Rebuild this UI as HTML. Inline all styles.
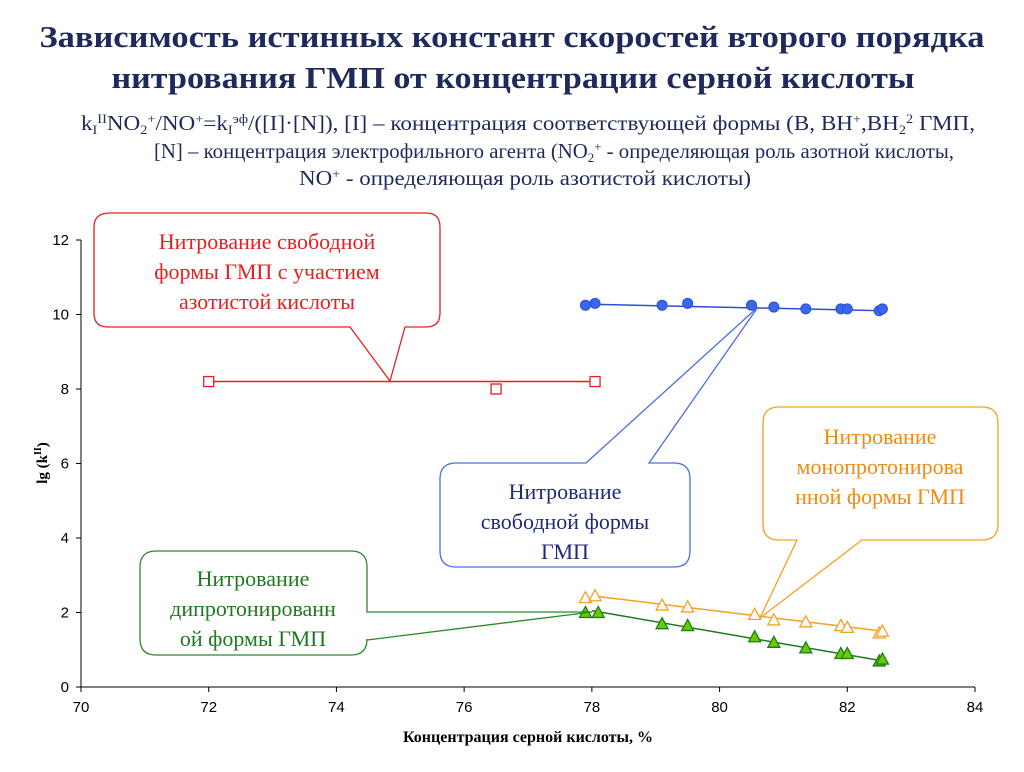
<!DOCTYPE html>
<html><head><meta charset="utf-8"><style>
body{margin:0;background:#fff;width:1024px;height:767px;overflow:hidden}
svg text{font-family:"Liberation Serif",serif}
</style></head><body>
<svg width="1024" height="767" xmlns="http://www.w3.org/2000/svg">
<text x="512" y="47" text-anchor="middle" font-size="31" font-weight="bold" fill="#1f2a5c" textLength="945" lengthAdjust="spacingAndGlyphs">Зависимость истинных констант скоростей второго порядка</text>
<text x="513" y="88" text-anchor="middle" font-size="31" font-weight="bold" fill="#1f2a5c" textLength="803" lengthAdjust="spacingAndGlyphs">нитрования ГМП от концентрации серной кислоты</text>
<g fill="#1f2a5c" font-size="21">
<text x="81" y="130" textLength="894" lengthAdjust="spacingAndGlyphs">k<tspan font-size="13" dy="4">I</tspan><tspan font-size="13" dy="-11">II</tspan><tspan dy="7">NO</tspan><tspan font-size="13" dy="4">2</tspan><tspan font-size="13" dy="-11">+</tspan><tspan dy="7">/NO</tspan><tspan font-size="13" dy="-7">+</tspan><tspan dy="7">=k</tspan><tspan font-size="13" dy="4">I</tspan><tspan font-size="13" dy="-11">эф</tspan><tspan dy="7">/([I]·[N]), [I] – концентрация соответствующей формы (B, BH</tspan><tspan font-size="13" dy="-7">+</tspan><tspan dy="7">,BH</tspan><tspan font-size="13" dy="4">2</tspan><tspan font-size="13" dy="-11">2</tspan><tspan dy="7"> ГМП,</tspan></text>
<text x="154" y="158" textLength="800" lengthAdjust="spacingAndGlyphs">[N] – концентрация электрофильного агента (NO<tspan font-size="13" dy="4">2</tspan><tspan font-size="13" dy="-11">+</tspan><tspan dy="7"> - определяющая роль азотной кислоты,</tspan></text>
<text x="299" y="185" textLength="452" lengthAdjust="spacingAndGlyphs">NO<tspan font-size="13" dy="-7">+</tspan><tspan dy="7"> - определяющая роль азотистой кислоты)</tspan></text>
</g>
<g id="axes"></g>
<g id="series"></g>
<text x="0" y="0" transform="translate(47,463) rotate(-90)" text-anchor="middle" font-size="15" font-weight="bold">lg (k<tspan font-size="10" dy="-6">II</tspan><tspan dy="6">)</tspan></text>
<text x="528" y="742" text-anchor="middle" font-size="16" font-weight="bold">Концентрация серной кислоты, %</text>
<g>
<path d="M110,213 H426 Q440,213 440,227 V313 Q440,327 426,327 H405 L390,381 L350,327 H108 Q94,327 94,313 V227 Q94,213 110,213 Z" fill="#fff" stroke="#e52020" stroke-width="1.3"/>
<g fill="#e52020" font-size="22" text-anchor="middle"><text x="267" y="249">Нитрование свободной</text><text x="267" y="279">формы ГМП с участием</text><text x="267" y="309">азотистой кислоты</text></g>
</g>
<g>
<path d="M456,463 H586 L758,307 L649,463 H674 Q690,463 690,479 V551 Q690,567 674,567 H456 Q440,567 440,551 V479 Q440,463 456,463 Z" fill="#fff" stroke="#4a6fe0" stroke-width="1.3"/>
<g fill="#1f2a7a" font-size="22" text-anchor="middle"><text x="565" y="499">Нитрование</text><text x="565" y="529">свободной формы</text><text x="565" y="559">ГМП</text></g>
</g>
<g>
<path d="M779,407 H982 Q998,407 998,423 V524 Q998,540 982,540 H862 L760,618 L797,540 H779 Q763,540 763,524 V423 Q763,407 779,407 Z" fill="#fff" stroke="#f5a020" stroke-width="1.3"/>
<g fill="#f08a10" font-size="22" text-anchor="middle"><text x="880" y="444">Нитрование</text><text x="880" y="474">монопротонирова</text><text x="880" y="504">нной формы ГМП</text></g>
</g>
<g>
<path d="M156,551 H351 Q367,551 367,567 V612 L592,612 L367,640 V639 Q367,655 351,655 H156 Q140,655 140,639 V567 Q140,551 156,551 Z" fill="#fff" stroke="#2a8a2a" stroke-width="1.3"/>
<g fill="#1f7a1f" font-size="22" text-anchor="middle"><text x="253" y="586">Нитрование</text><text x="253" y="616">дипротонированн</text><text x="253" y="646">ой формы ГМП</text></g>
</g>
</svg>
<script>
const xTicks=[70,72,74,76,78,80,82,84];
const yTicks=[0,2,4,6,8,10,12];
const blueX=[77.9,78.05,79.1,79.5,80.5,80.85,81.35,81.9,82.0,82.5,82.55];
const blueY=[10.25,10.3,10.25,10.3,10.25,10.2,10.15,10.15,10.15,10.1,10.15];
const blueFit=[[77.9,10.28],[82.55,10.1]];
const redX=[72,76.5,78.05];
const redY=[8.2,8.0,8.2];
const redFit=[[72,8.2],[78.05,8.2]];
const orangeX=[77.9,78.05,79.1,79.5,80.55,80.85,81.35,81.9,82.0,82.5,82.55];
const orangeY=[2.4,2.45,2.2,2.15,1.95,1.8,1.75,1.65,1.6,1.45,1.5];
const orangeFit=[[78.0,2.45],[82.55,1.5]];
const greenX=[77.9,78.1,79.1,79.5,80.55,80.85,81.35,81.9,82.0,82.5,82.55];
const greenY=[2.0,2.0,1.7,1.65,1.35,1.2,1.05,0.9,0.9,0.7,0.75];
const greenFit=[[78.0,2.05],[82.55,0.7]];
const X=v=>81+(v-70)*(975-81)/14;
const Y=v=>687-v*(687-240)/12;
const NS="http://www.w3.org/2000/svg";
function mk(tag,at,parent){const e=document.createElementNS(NS,tag);for(const k in at)e.setAttribute(k,at[k]);parent.appendChild(e);return e;}
const ax=document.getElementById('axes'),sr=document.getElementById('series');
let a=mk('line',{x1:X(70),y1:Y(0),x2:X(84),y2:Y(0),stroke:'#000'},ax);


a=mk('line',{x1:X(70),y1:Y(0),x2:X(70),y2:Y(12),stroke:'#000'},ax);


xTicks.forEach(t=>{mk('line',{x1:X(t),y1:Y(0),x2:X(t),y2:Y(0)+5,stroke:'#000'},ax);
const tx=mk('text',{x:X(t),y:Y(0)+25,'text-anchor':'middle','font-size':'15',style:'font-family:"Liberation Sans",sans-serif'},ax);tx.textContent=t;

});
yTicks.forEach(t=>{mk('line',{x1:X(70)-5,y1:Y(t),x2:X(70),y2:Y(t),stroke:'#000'},ax);
const tx=mk('text',{x:X(70)-12,y:Y(t)+5,'text-anchor':'end','font-size':'15',style:'font-family:"Liberation Sans",sans-serif'},ax);tx.textContent=t;

});
function series(name,xs,ys,fit,col,shape,fill){
const g=mk('g',{},sr);


const l=mk('line',{x1:X(fit[0][0]),y1:Y(fit[0][1]),x2:X(fit[1][0]),y2:Y(fit[1][1]),stroke:col,'stroke-width':1.5},g);


xs.forEach((x,i)=>{const cx=X(x),cy=Y(ys[i]);let m;
if(shape==='circle')m=mk('circle',{cx:cx,cy:cy,r:5,fill:fill,stroke:col},g);
else if(shape==='square')m=mk('rect',{x:cx-5,y:cy-5,width:10,height:10,fill:fill,stroke:col,'stroke-width':1.3},g);
else m=mk('polygon',{points:`${cx},${cy-6} ${cx-6},${cy+5} ${cx+6},${cy+5}`,fill:fill,stroke:col,'stroke-width':1.3},g);

});}
series('blue',blueX,blueY,blueFit,'#2a4fd0','circle','#3a66f0');
series('red',redX,redY,redFit,'#e52020','square','#fff');
series('orange',orangeX,orangeY,orangeFit,'#f5a020','tri','#fff');
series('green',greenX,greenY,greenFit,'#1f7a1f','tri','#66cc00');
</script>
</body></html>
